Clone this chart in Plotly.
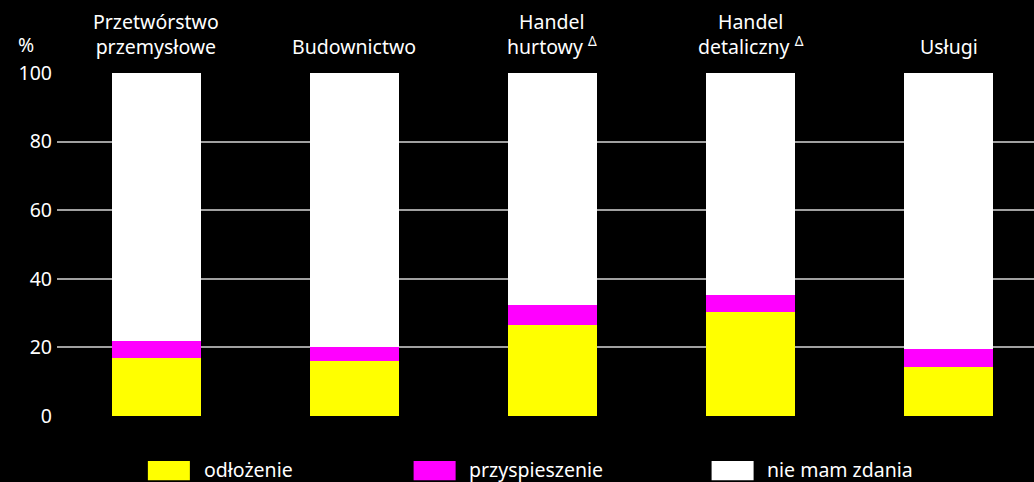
import plotly.graph_objects as go

# kategorie (etykiety nad słupkami)
categories = ["Przetwórstwo<br>przemysłowe", "Budownictwo", "Handel<br>hurtowy <sup>Δ</sup>",
              "Handel<br>detaliczny <sup>Δ</sup>", "Usługi"]
odlozenie = [17.0, 16.0, 26.6, 30.3, 14.4]
przyspieszenie = [5.0, 4.0, 5.7, 5.0, 5.0]
nie_mam_zdania = [78.0, 80.0, 67.7, 64.7, 80.6]

series_names = ["odłożenie", "przyspieszenie", "nie mam zdania"]
colors = ["#ffff00", "#ff00ff", "#ffffff"]
y_ticks = [0, 20, 40, 60, 80, 100]

FONT = "Noto Sans"
FS = 19.5
x_idx = list(range(len(categories)))

fig = go.Figure()
for name, vals, col in zip(series_names, [odlozenie, przyspieszenie, nie_mam_zdania], colors):
    fig.add_trace(go.Bar(x=x_idx, y=vals, name=name, marker_color=col,
                         marker_line_width=0, showlegend=False))

# etykiety kategorii nad wykresem
for i, lab in enumerate(categories):
    fig.add_annotation(x=i, y=1, xref="x", yref="paper", text=lab, showarrow=False,
                       yanchor="bottom", yshift=11, align="center",
                       font=dict(family=FONT, size=FS, color="white"))

fig.add_annotation(x=-0.022, y=1, xref="paper", yref="paper", text="%", showarrow=False,
                   xanchor="right", yanchor="bottom", yshift=13,
                   font=dict(family=FONT, size=FS, color="white"))

# legenda rysowana ręcznie (szerokie prostokąty jak w oryginale)
legend_x = [0.093, 0.365, 0.670]
for name, col, lx in zip(series_names, colors, legend_x):
    fig.add_shape(type="rect", xref="paper", yref="paper", x0=lx, x1=lx + 0.043,
                  y0=-0.187, y1=-0.131, fillcolor=col, line_width=0)
    fig.add_annotation(x=lx + 0.055, y=-0.157, xref="paper", yref="paper", text=name,
                       showarrow=False, xanchor="left", yanchor="middle",
                       font=dict(family=FONT, size=FS, color="white"))

fig.update_layout(
    barmode="stack",
    bargap=0.55,
    width=1034, height=482,
    margin=dict(l=57, r=0, t=73, b=66),
    paper_bgcolor="black", plot_bgcolor="black",
    font=dict(family=FONT, size=FS, color="white"),
    xaxis=dict(range=[-0.5, 4.43], showticklabels=False, showgrid=False, zeroline=False),
    yaxis=dict(range=[0, 100], tickvals=y_ticks, showgrid=True, gridcolor="#a0a0a0",
               gridwidth=1.5, zeroline=False, ticks="", ticklabelstandoff=4,
               tickfont=dict(family=FONT, size=FS, color="white")),
)

fig.write_html("out.html", config={"displayModeBar": False},
               post_script="document.body.style.margin='0';document.body.style.background='black';")
